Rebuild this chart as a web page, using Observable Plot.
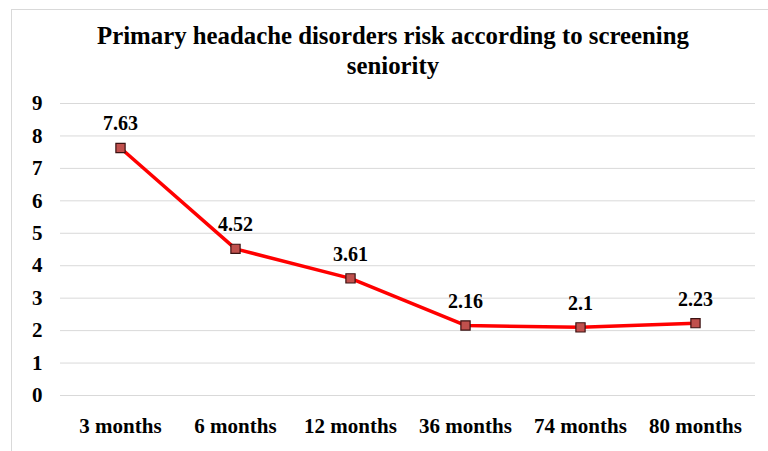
<!DOCTYPE html>
<html>
<head>
<meta charset="utf-8">
<script src="https://cdn.jsdelivr.net/npm/d3@7"></script>
<script src="https://cdn.jsdelivr.net/npm/@observablehq/plot@0.6"></script>
<style>
  html, body { margin: 0; padding: 0; background: #fff; overflow: hidden; }
  #wrap { position: relative; width: 768px; height: 451px; overflow: hidden; }
  #frame { position: absolute; left: 11px; top: 9px; width: 800px; height: 500px; border: 1px solid #d9d9d9; box-sizing: border-box; }
  #title { position: absolute; left: 0; top: 0; width: 768px; height: 90px; box-sizing: border-box; padding-top: 21px; padding-left: 18px;
           text-align: center; font-family: "Liberation Serif", "Times New Roman", serif; font-weight: bold; font-size: 24.8px; line-height: 30px; color: #000; }
  #chart { position: absolute; left: 0; top: 90px; }
</style>
</head>
<body>
<div id="wrap">
  <div id="frame"></div>
  <div id="title">Primary headache disorders risk according to screening<br>seniority</div>
  <div id="chart"></div>
</div>
<script>
const categories = ["3 months", "6 months", "12 months", "36 months", "74 months", "80 months"];
const values = [7.63, 4.52, 3.61, 2.16, 2.1, 2.23];
const yTicks = [0, 1, 2, 3, 4, 5, 6, 7, 8, 9];

const data = categories.map((c, i) => ({category: c, value: values[i]}));

const plot = Plot.plot({
  width: 768,
  height: 361,
  marginLeft: 60,
  marginRight: 13,
  marginTop: 13,
  marginBottom: 56,
  style: {fontFamily: "'Liberation Serif', 'Times New Roman', serif", fontSize: "21px", fontWeight: "bold", color: "#000", background: "transparent"},
  x: {type: "point", domain: categories, padding: 0.5, label: null},
  y: {domain: [0, 9], label: null},
  marks: [
    Plot.ruleY(yTicks, {stroke: "#d9d9d9", strokeWidth: 1}),
    Plot.axisX({tickSize: 0, tickPadding: 23, label: null, fontSize: 21, fontWeight: "bold"}),
    Plot.axisY({ticks: yTicks, tickSize: 0, tickPadding: 18, label: null, fontSize: 21, fontWeight: "bold"}),
    Plot.line(data, {x: "category", y: "value", stroke: "#ff0000", strokeWidth: 3.5}),
    Plot.dot(data, {x: "category", y: "value", symbol: "square", r: 5.2, fill: "#c0504d", stroke: "#3b1212", strokeWidth: 1.2}),
    Plot.text(data, {x: "category", y: "value", text: d => String(d.value), dy: -24, fontSize: 20, fontWeight: "bold", fill: "#000"})
  ]
});
document.getElementById("chart").appendChild(plot);
</script>
</body>
</html>
